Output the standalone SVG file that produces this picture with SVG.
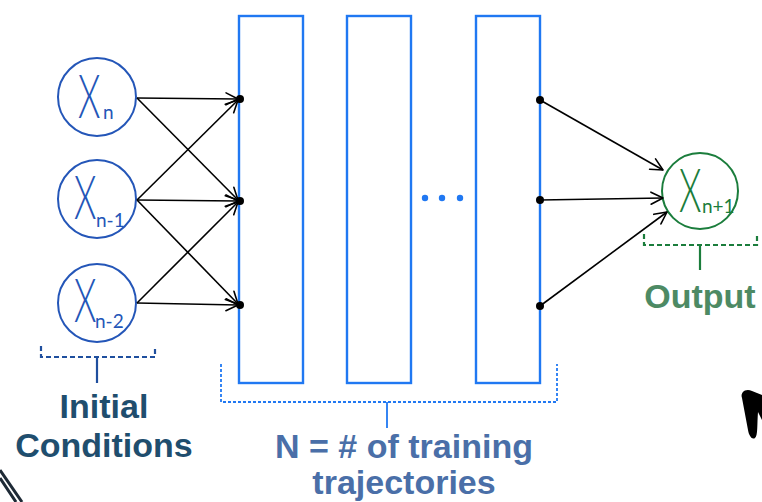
<svg xmlns="http://www.w3.org/2000/svg" width="762" height="502" viewBox="0 0 762 502">
<defs>
<marker id="arr" markerUnits="userSpaceOnUse" markerWidth="16" markerHeight="16" viewBox="0 0 16 16" refX="14" refY="8" orient="auto">
<path d="M2,2 L14,8 L2,14" fill="none" stroke="#000" stroke-width="1.6" stroke-linecap="round" stroke-linejoin="round"/>
</marker>
</defs>
<style>
.in{fill:none;stroke:#2456b8;stroke-width:2}
.out{fill:none;stroke:#1b7d3c;stroke-width:2}
.blk{fill:none;stroke:#2078f2;stroke-width:2.4}
.X{font-family:Lato,"Liberation Sans",sans-serif;font-weight:300;font-size:62px}
.sub{font-family:Lato,"Liberation Sans",sans-serif;font-weight:400;font-size:19px}
.edge{stroke:#000;stroke-width:1.6;fill:none;marker-end:url(#arr)}
.dot{fill:#000}
.lbl{font-family:"Liberation Sans",Arial,sans-serif;font-weight:bold;font-size:34px;text-anchor:middle}
</style>

<g id="x_n">
<circle class="in" cx="97" cy="97" r="39"/>
<text class="X" fill="#2456b8" transform="translate(78,118) scale(0.58,1)">X</text>
<text class="sub" fill="#2456b8" x="103" y="119" font-size="20">n</text>
</g>
<g id="x_n-1">
<circle class="in" cx="97" cy="199" r="39"/>
<text class="X" fill="#2456b8" transform="translate(74,219) scale(0.58,1)">X</text>
<text class="sub" fill="#2456b8" x="96" y="227" font-size="17">n-1</text>
</g>
<g id="x_n-2">
<circle class="in" cx="97" cy="303" r="39"/>
<text class="X" fill="#2456b8" transform="translate(74,322) scale(0.58,1)">X</text>
<text class="sub" fill="#2456b8" x="95" y="328" font-size="17">n-2</text>
</g>

<g id="block1"><rect class="blk" x="239" y="16" width="64" height="367"/></g>
<g id="block2"><rect class="blk" x="347" y="16" width="64" height="367"/></g>
<g id="ellipsis">
<circle cx="425" cy="198" r="3.2" fill="#2078f2"/>
<circle cx="442" cy="198" r="3.2" fill="#2078f2"/>
<circle cx="460" cy="198" r="3.2" fill="#2078f2"/>
</g>
<g id="blockN"><rect class="blk" x="476" y="16" width="64" height="367"/></g>

<g id="x_n+1">
<circle class="out" cx="700" cy="191" r="38"/>
<text class="X" fill="#1b7d3c" transform="translate(679,212) scale(0.58,1)">X</text>
<text class="sub" fill="#1b7d3c" x="702" y="213" font-size="15">n+1</text>
</g>

<g id="connectors">
<line class="edge" x1="137" y1="98" x2="238" y2="99"/>
<line class="edge" x1="137" y1="98" x2="238" y2="200"/>
<line class="edge" x1="137" y1="200" x2="238" y2="100"/>
<line class="edge" x1="137" y1="200" x2="238" y2="201"/>
<line class="edge" x1="137" y1="200" x2="238" y2="304"/>
<line class="edge" x1="137" y1="303" x2="238" y2="202"/>
<line class="edge" x1="137" y1="303" x2="238" y2="305"/>
<circle class="dot" cx="240" cy="99" r="4"/>
<circle class="dot" cx="240" cy="201" r="4"/>
<circle class="dot" cx="240" cy="305" r="4"/>
<line class="edge" x1="540" y1="100" x2="663" y2="170"/>
<line class="edge" x1="540" y1="200" x2="663" y2="198"/>
<line class="edge" x1="540" y1="306" x2="667" y2="212"/>
<circle class="dot" cx="540" cy="100" r="4"/>
<circle class="dot" cx="540" cy="200" r="4"/>
<circle class="dot" cx="540" cy="306" r="4"/>
</g>

<g id="initial_conditions">
<path d="M41,346 V357 H155 V346" fill="none" stroke="#1f4f9e" stroke-width="2.2" stroke-dasharray="5,3"/>
<line x1="97" y1="357" x2="97" y2="383" stroke="#1f4f9e" stroke-width="2.2"/>
<text class="lbl" fill="#1f4e6e" x="104" y="418">Initial</text>
<text class="lbl" fill="#1f4e6e" x="104" y="457">Conditions</text>
</g>

<g id="training">
<path d="M221,364 V402 H557 V364" fill="none" stroke="#2078f2" stroke-width="1.8" stroke-dasharray="3,2"/>
<line x1="387" y1="402" x2="387" y2="428" stroke="#2078f2" stroke-width="1.8"/>
<text class="lbl" fill="#4a6fa8" x="404" y="458">N = # of training</text>
<text class="lbl" fill="#4a6fa8" x="404" y="494">trajectories</text>
</g>

<g id="output">
<path d="M644,234 V245 H757 V234" fill="none" stroke="#1b7d3c" stroke-width="2.2" stroke-dasharray="5,3"/>
<line x1="700" y1="245" x2="700" y2="270" stroke="#1b7d3c" stroke-width="2.2"/>
<text class="lbl" fill="#4d8a64" x="700" y="308">Output</text>
</g>

<path d="M742,398 C740,392 746,388 752,391 L762,395 V420 L758,412 C757,424 758,436 755,438 C752,440 749,436 748,430 Z" fill="#000"/>
<path d="M0,470 L22,502 M0,478 L16,502" stroke="#1e2a36" stroke-width="3" fill="none"/>
</svg>
